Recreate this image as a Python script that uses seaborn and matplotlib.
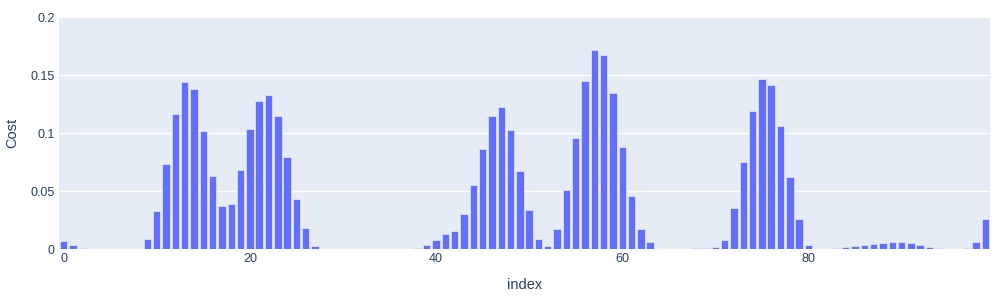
import matplotlib
matplotlib.use("Agg")
import matplotlib.pyplot as plt
import seaborn as sns
import pandas as pd
import numpy as np

index = list(range(100))
cost = [
    0.0069, 0.0034, 0.0012, 0.0, 0.0, 0.0, 0.0, 0.0, 0.0, 0.0086,
    0.0325, 0.0730, 0.1164, 0.1437, 0.1376, 0.1020, 0.0626, 0.0371, 0.0385, 0.0681,
    0.1032, 0.1273, 0.1325, 0.1147, 0.0790, 0.0428, 0.0178, 0.0026, 0.0, 0.0,
    0.0, 0.0, 0.0, 0.0, 0.0, 0.0, 0.0, 0.0, 0.0009, 0.0034,
    0.0080, 0.0129, 0.0158, 0.0305, 0.0552, 0.0862, 0.1144, 0.1224, 0.1029, 0.0672,
    0.0339, 0.0083, 0.0026, 0.0175, 0.0509, 0.0957, 0.1445, 0.1718, 0.1670, 0.1342,
    0.0882, 0.0457, 0.0175, 0.0057, 0.0, 0.0, 0.0, 0.0, 0.0006, 0.0009,
    0.0020, 0.0080, 0.0353, 0.0753, 0.1187, 0.1466, 0.1417, 0.1063, 0.0621, 0.0256,
    0.0037, 0.0003, 0.0, 0.0006, 0.0014, 0.0023, 0.0034, 0.0043, 0.0055, 0.0060,
    0.0063, 0.0052, 0.0034, 0.0017, 0.0006, 0.0, 0.0003, 0.0011, 0.0057, 0.0256,
]
xticks = [0, 20, 40, 60, 80]
yticks = [0, 0.05, 0.1, 0.15, 0.2]
ytick_labels = ["0", "0.05", "0.1", "0.15", "0.2"]

df = pd.DataFrame({"index": index, "Cost": cost})

sns.set_theme(style="white")
plt.rcParams["font.family"] = ["Liberation Sans", "DejaVu Sans"]

fig = plt.figure(figsize=(10, 3), dpi=100)
ax = fig.add_axes([0.059, 1 - 249 / 300, 0.931, 232 / 300])
ax.set_facecolor("#E5ECF6")

sns.barplot(data=df, x="index", y="Cost", color="#636EFA", saturation=1,
            width=0.8, edgecolor="#E5ECF6", linewidth=0.5, ax=ax, zorder=3)

ax.set_xlim(-0.5, 99.5)
ax.set_ylim(0, 0.2)
ax.set_yticks(yticks)
ax.set_yticklabels(ytick_labels)
ax.set_xticks(xticks)
ax.set_xticklabels([str(t) for t in xticks])
ax.grid(axis="y", color="white", linewidth=1, zorder=0)
ax.set_axisbelow(True)
for s in ax.spines.values():
    s.set_visible(False)
ax.tick_params(axis="both", length=0, labelsize=9, labelcolor="#2a3f5f", pad=3)
ax.set_xlabel("index", fontsize=10.5, color="#2a3f5f", labelpad=9)
ax.set_ylabel("Cost", fontsize=10.5, color="#2a3f5f", labelpad=8)

fig.savefig("out.png", dpi=100)
